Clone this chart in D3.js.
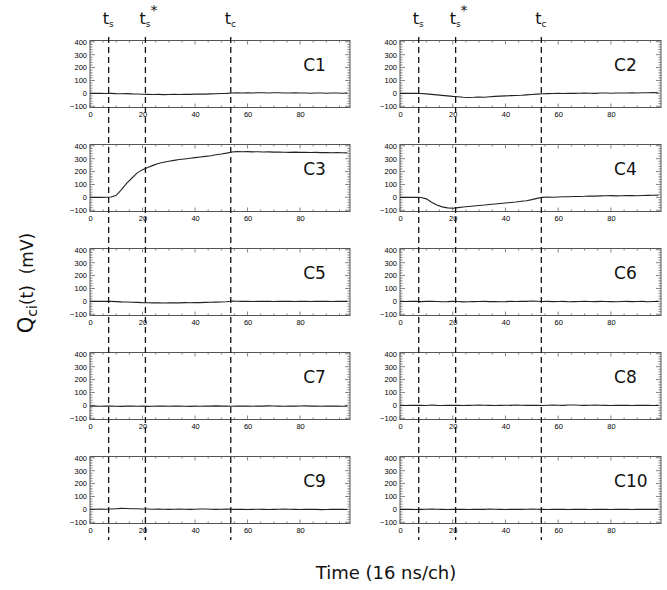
<!DOCTYPE html>
<html><head><meta charset="utf-8">
<script src="https://cdn.jsdelivr.net/npm/d3@7"></script>
<style>body{margin:0;background:#fff}svg{display:block}</style>
</head><body><svg id="c" width="667" height="590"></svg>
<script>
const channels = [0,2,4,6,8,10,12,14,16,18,20,22,24,26,28,30,32,34,36,38,40,42,44,46,48,50,52,54,56,58,60,62,64,66,68,70,72,74,76,78,80,82,84,86,88,90,92,94,96,98];
const C1 = [0,1,0,-1,0,-2,-3,-2,-4,-5,-7,-8,-9,-8,-10,-9,-8,-9,-7,-8,-6,-5,-6,-4,-3,-1,0,3,4,2,4,3,5,4,3,5,4,2,3,4,2,3,1,3,2,1,3,2,1,2];
const C2 = [0,1,0,1,-1,-4,-8,-12,-16,-20,-24,-27,-30,-32,-31,-28,-30,-26,-24,-22,-20,-18,-17,-15,-12,-9,-6,-3,-2,-1,0,-1,1,0,1,2,1,0,2,3,1,2,3,2,4,3,5,4,6,5];
const C3 = [0,0,0,1,2,15,60,110,150,190,215,232,248,262,272,280,287,293,298,303,308,313,318,323,330,336,343,352,355,354,355,353,354,352,353,351,352,350,349,351,349,350,348,349,347,348,346,347,346,345];
const C4 = [0,0,1,0,-1,-12,-38,-60,-74,-82,-85,-80,-75,-71,-67,-63,-60,-56,-52,-48,-44,-40,-36,-31,-26,-18,-8,0,2,1,3,5,4,6,7,8,10,9,11,12,13,11,12,14,13,12,14,15,16,17];
const C5 = [0,1,0,1,0,-2,-4,-5,-7,-8,-10,-11,-12,-11,-13,-12,-11,-12,-10,-11,-9,-10,-8,-7,-6,-5,-3,2,1,0,1,-1,0,1,0,-1,0,1,0,-1,0,1,-1,0,1,0,-1,0,1,0];
const C6 = [0,-1,1,0,-2,0,1,-1,-3,-2,0,-1,-4,-3,-2,-1,0,-2,-1,-3,-2,0,-1,1,0,2,1,-1,0,-2,-1,0,-3,-2,-1,0,-1,-2,0,-1,-2,-3,-1,0,-2,-1,0,-3,-1,0];
const C7 = [-6,-5,-7,-6,-5,-7,-8,-6,-5,-7,-6,-8,-7,-5,-6,-7,-6,-5,-7,-8,-6,-7,-5,-6,-4,-6,-5,-7,-6,-5,-6,-7,-5,-6,-4,-5,-6,-7,-5,-6,-5,-4,-6,-5,-7,-6,-5,-6,-7,-6];
const C8 = [0,-1,0,1,0,-1,2,0,-1,0,1,0,-1,0,1,2,1,0,-1,0,1,0,2,1,0,1,0,-1,1,2,1,0,3,2,1,0,1,2,1,0,-1,0,1,0,-1,0,1,0,-1,0];
const C9 = [0,1,2,1,3,5,7,6,5,4,3,2,1,2,1,0,1,2,1,0,1,3,2,1,0,1,2,0,1,0,-1,0,1,0,-1,0,1,2,1,0,-1,0,1,0,-2,-1,0,1,0,-1];
const C10 = [0,1,0,-1,0,1,2,1,0,-1,0,1,0,-1,0,1,0,2,1,0,-1,0,1,0,1,2,1,0,-1,0,1,0,-1,0,1,0,-1,0,1,0,-1,0,1,0,-1,0,1,0,1,0];
const panelNames = ["C1","C2","C3","C4","C5","C6","C7","C8","C9","C10"];
const panelSeries = [C1,C2,C3,C4,C5,C6,C7,C8,C9,C10];
const xTicks = [0,20,40,60,80];
const yTicks = [-100,0,100,200,300,400];
const markerTimes = [7.1, 21.1, 53.6];
const markerLabels = [["t","s",""],["t","s","*"],["t","c",""]];

const svg = d3.select("#c");
const cols = [[90,350],[400,661]];
const rowTop0 = 40.5, rowPitch = 104, rowH = 67;
const fine = "Liberation Sans, Arial, sans-serif";
const main = "DejaVu Sans, Verdana, sans-serif";

panelSeries.forEach((vals, i) => {
  const col = i % 2, row = Math.floor(i / 2);
  const top = rowTop0 + row * rowPitch;
  const x = d3.scaleLinear().domain([0, 99]).range(cols[col]);
  const y = d3.scaleLinear().domain([-110, 410]).range([top + rowH, top]);
  const g = svg.append("g");
  const x0 = cols[col][0], x1 = cols[col][1], y0 = top + rowH, y1 = top;
  g.append("rect").attr("x", x0).attr("y", y1).attr("width", x1 - x0).attr("height", rowH)
    .attr("fill", "none").attr("stroke", "#555").attr("stroke-width", 1);
  d3.range(0, 100, 5).forEach(v => {
    const L = v % 20 === 0 ? 4 : 2;
    g.append("line").attr("x1", x(v)).attr("x2", x(v)).attr("y1", y0).attr("y2", y0 - L).attr("stroke", "#666").attr("stroke-width", 0.8);
    g.append("line").attr("x1", x(v)).attr("x2", x(v)).attr("y1", y1).attr("y2", y1 + L).attr("stroke", "#666").attr("stroke-width", 0.8);
  });
  d3.range(-100, 401, 20).forEach(v => {
    const L = v % 100 === 0 ? 5 : 2.5;
    g.append("line").attr("x1", x0).attr("x2", x0 + L).attr("y1", y(v)).attr("y2", y(v)).attr("stroke", "#666").attr("stroke-width", 0.8);
    g.append("line").attr("x1", x1).attr("x2", x1 - L).attr("y1", y(v)).attr("y2", y(v)).attr("stroke", "#666").attr("stroke-width", 0.8);
  });
  const xa = d3.axisBottom(x).tickValues(xTicks).tickSize(0).tickPadding(4);
  const ga = g.append("g").attr("transform", `translate(0,${y0})`).call(xa);
  ga.select(".domain").remove();
  ga.selectAll("text").attr("font-family", fine).attr("font-size", 7.5).attr("fill", "#000");
  const ya = d3.axisLeft(y).tickValues(yTicks).tickSize(0).tickPadding(3).tickFormat(d => d < 0 ? "\u2212" + Math.abs(d) : d);
  const gy = g.append("g").attr("transform", `translate(${x0},0)`).call(ya);
  gy.select(".domain").remove();
  gy.selectAll("text").attr("font-family", fine).attr("font-size", 7.5).attr("fill", "#000");
  g.append("path").datum(vals)
    .attr("d", d3.line().x((d, k) => x(channels[k])).y(d => y(d)))
    .attr("fill", "none").attr("stroke", "#222").attr("stroke-width", 1.1);
  g.append("text").attr("x", x0 + (x1 - x0) * 0.82).attr("y", top + 30)
    .attr("font-family", main).attr("font-size", 17).attr("fill", "#111").text(panelNames[i]);
});

cols.forEach(c => {
  const x = d3.scaleLinear().domain([0, 99]).range(c);
  markerTimes.forEach((t, j) => {
    svg.append("line").attr("x1", x(t)).attr("x2", x(t)).attr("y1", 37).attr("y2", 540)
      .attr("stroke", "#111").attr("stroke-width", 1.3).attr("stroke-dasharray", "6,4");
    const lab = markerLabels[j];
    const tx = svg.append("text").attr("x", x(t) - 6).attr("y", 24)
      .attr("font-family", main).attr("font-size", 16).attr("fill", "#111");
    tx.append("tspan").text(lab[0]);
    tx.append("tspan").attr("font-size", 9).attr("dy", 3).text(lab[1]);
    if (lab[2]) tx.append("tspan").attr("font-size", 14).attr("dy", -12).text(lab[2]);
  });
});

const yt = svg.append("text").attr("transform", "translate(33,283) rotate(-90)")
  .attr("text-anchor", "middle").attr("font-family", main).attr("font-size", 21).attr("fill", "#111");
yt.append("tspan").text("Q");
yt.append("tspan").attr("font-size", 14).attr("dy", 4).text("ci");
yt.append("tspan").attr("dy", -4).attr("font-size", 17).text("(t)\u00a0\u00a0(mV)");

svg.append("text").attr("x", 386).attr("y", 579).attr("text-anchor", "middle")
  .attr("font-family", main).attr("font-size", 18).attr("fill", "#111").text("Time (16 ns/ch)");
</script></body></html>
